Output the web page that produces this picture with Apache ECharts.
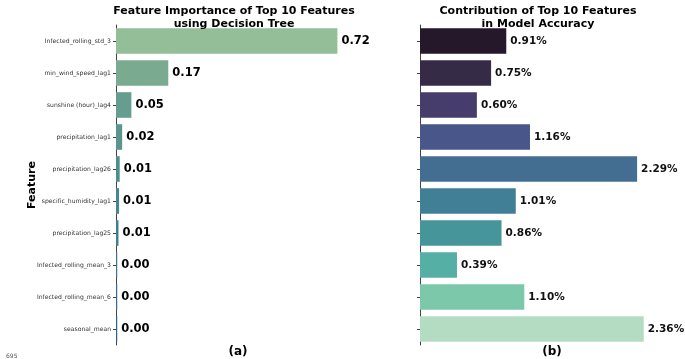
<!DOCTYPE html>
<html>
<head>
<meta charset="utf-8">
<script src="https://cdn.jsdelivr.net/npm/echarts@6/dist/echarts.min.js"></script>
<style>
  html, body { margin: 0; padding: 0; background: #fff; }
  #chart { width: 685px; height: 359px; }
</style>
</head>
<body>
<div id="chart"></div>
<script>
// features ranked by the decision tree
const features = [
  'Infected_rolling_std_3', 'min_wind_speed_lag1', 'sunshine (hour)_lag4',
  'precipitation_lag1', 'precipitation_lag26', 'specific_humidity_lag1',
  'precipitation_lag25', 'Infected_rolling_mean_3', 'Infected_rolling_mean_6',
  'seasonal_mean'
]
// (a) importance
const importance = [0.72, 0.17, 0.05, 0.02, 0.012, 0.01, 0.008, 0.004, 0.004, 0.004]
// (b) contribution in model accuracy (%)
const contribution = [0.91, 0.75, 0.60, 1.16, 2.29, 1.01, 0.86, 0.39, 1.10, 2.36]

const colorsA = ['#93be98', '#7aab91', '#659d8e', '#5a958f', '#4f8e8f',
                 '#45868f', '#3f7e8e', '#3a758c', '#366b89', '#345f85']
const colorsB = ['#24182a', '#362b47', '#473d6d', '#49568a', '#436e92',
                 '#417f97', '#46959a', '#55afa4', '#7bc8ab', '#b4dcc2']

const font = 'DejaVu Sans'
const myChart = echarts.init(document.getElementById('chart'))

const catAxis = (gridIndex, showLabel) => ({
  type: 'category',
  gridIndex,
  inverse: true,
  data: features,
  axisLine: { show: true, lineStyle: { color: '#444', width: 1 } },
  axisTick: { show: true, length: 3, alignWithLabel: true, lineStyle: { color: '#444' } },
  axisLabel: {
    show: showLabel, fontFamily: font, fontSize: 6.1, color: '#333', margin: 5
  },
  name: showLabel ? 'Feature' : '',
  nameLocation: 'middle',
  nameGap: 78,
  nameMoveOverlap: false,
  nameTextStyle: { fontFamily: font, fontWeight: 'bold', fontSize: 11, color: '#000' }
})

const valAxis = (gridIndex, max) => ({
  type: 'value',
  gridIndex,
  min: 0,
  max,
  show: false
})

const titleStyle = { fontFamily: font, fontWeight: 'bold', fontSize: 11, lineHeight: 13, color: '#000' }

let option = {
  animation: false,
  title: [
    {
      text: 'Feature Importance of Top 10 Features\nusing Decision Tree',
      left: 229, top: 0, textAlign: 'center',
      textStyle: titleStyle
    },
    {
      text: 'Contribution of Top 10 Features\nin Model Accuracy',
      left: 533, top: 0, textAlign: 'center',
      textStyle: titleStyle
    },
    {
      text: '(a)', left: 233, top: 341, textAlign: 'center',
      textStyle: { fontFamily: font, fontWeight: 'bold', fontSize: 12, color: '#000' }
    },
    {
      text: '(b)', left: 547, top: 341, textAlign: 'center',
      textStyle: { fontFamily: font, fontWeight: 'bold', fontSize: 12, color: '#000' }
    },
    {
      text: '695', left: 1, top: 348,
      textStyle: { fontFamily: font, fontWeight: 'normal', fontSize: 6, color: '#555' }
    }
  ],
  grid: [
    { left: 116, top: 25, width: 246, height: 320 },
    { left: 420, top: 25, width: 246.5, height: 320 }
  ],
  xAxis: [valAxis(0, 0.8), valAxis(1, 2.6)],
  yAxis: [catAxis(0, true), catAxis(1, false)],
  series: [
    {
      type: 'bar',
      xAxisIndex: 0,
      yAxisIndex: 0,
      barCategoryGap: '20%',
      data: importance.map((v, i) => ({ value: v, itemStyle: { color: colorsA[i] } })),
      label: {
        show: true,
        position: 'right',
        distance: 4,
        fontFamily: font,
        fontWeight: 'bold',
        fontSize: 11.5,
        color: '#000',
        formatter: p => p.value.toFixed(2)
      }
    },
    {
      type: 'bar',
      xAxisIndex: 1,
      yAxisIndex: 1,
      barCategoryGap: '20%',
      data: contribution.map((v, i) => ({ value: v, itemStyle: { color: colorsB[i] } })),
      label: {
        show: true,
        position: 'right',
        distance: 4,
        fontFamily: font,
        fontWeight: 'bold',
        fontSize: 10.5,
        color: '#111',
        formatter: p => p.value.toFixed(2) + '%'
      }
    }
  ]
}
myChart.setOption(option)
</script>
</body>
</html>
